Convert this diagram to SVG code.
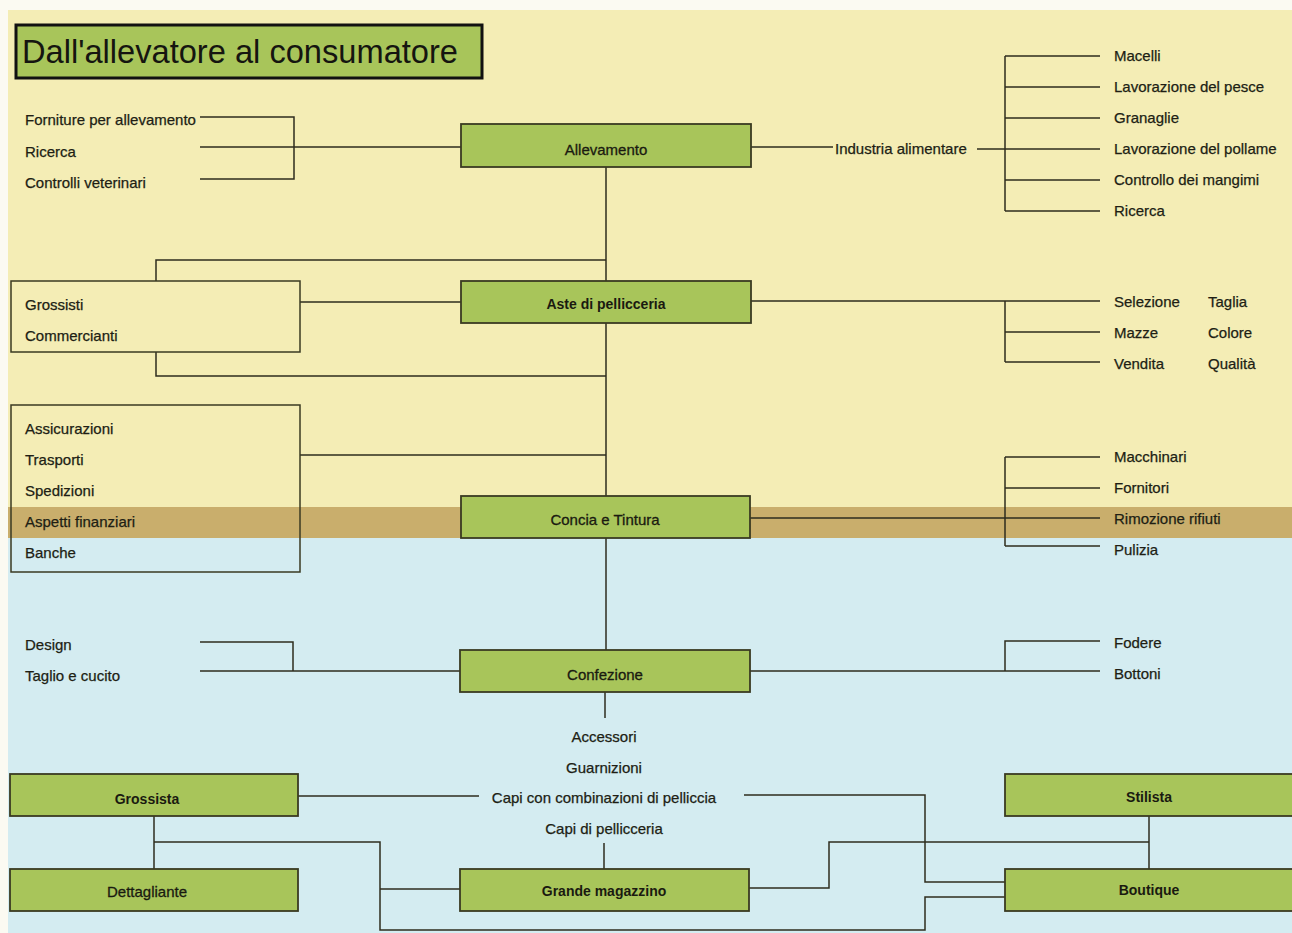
<svg xmlns="http://www.w3.org/2000/svg" width="1292" height="933" viewBox="0 0 1292 933">
<style>
.t{font-family:"Liberation Sans",Arial,sans-serif;font-size:15px;fill:#201e14;stroke:#201e14;stroke-width:0.25}
.lb{font-family:"Liberation Sans",Arial,sans-serif;font-size:15px;fill:#1a1a10;stroke:#1a1a10;stroke-width:0.3;text-anchor:middle}
.b{font-weight:bold;font-size:14px;stroke-width:0}
.box{fill:#a8c55a;stroke:#3a3a22;stroke-width:1.8}
.frame{fill:none;stroke:#3a3a22;stroke-width:1.5}
.ln{fill:none;stroke:#2e2c1e;stroke-width:1.5}
.c{text-anchor:middle}
</style>
<rect x="0" y="0" width="1292" height="933" fill="#fbfaf2"/>
<rect x="8" y="10" width="1284" height="497" fill="#f4edb5"/>
<rect x="8" y="507" width="1284" height="31" fill="#c9ae6c"/>
<rect x="8" y="538" width="1284" height="395" fill="#d4ecf1"/>

<g id="title">
<rect x="16" y="25" width="466" height="53" fill="#a8c55a" stroke="#111" stroke-width="3"/>
<text x="22" y="63" font-family="Liberation Sans, Arial, sans-serif" font-size="33" fill="#151510" textLength="436" lengthAdjust="spacingAndGlyphs">Dall'allevatore al consumatore</text>
</g>

<g id="connectors">
<path class="ln" d="M606 167 V650"/>
<path class="ln" d="M605 692 V718"/>
<path class="ln" d="M200 117 H294 V179 H200 M200 147 H461"/>
<path class="ln" d="M751 147 H833"/>
<path class="ln" d="M977 149 H1005"/>
<path class="ln" d="M1005 56 V211 M1005 56 H1100 M1005 87 H1100 M1005 118 H1100 M1005 149 H1100 M1005 180 H1100 M1005 211 H1100"/>
<path class="ln" d="M300 302 H461"/>
<path class="ln" d="M156 281 V260 H606 M156 352 V376 H606"/>
<path class="ln" d="M751 301 H1100 M1005 301 V362 M1005 332 H1100 M1005 362 H1100"/>
<path class="ln" d="M300 455 H606"/>
<path class="ln" d="M750 518 H1100 M1005 457 V546 M1005 457 H1100 M1005 488 H1100 M1005 546 H1100"/>
<path class="ln" d="M200 642 H293 V671 M200 671 H460"/>
<path class="ln" d="M750 671 H1100 M1005 671 V641 H1100"/>
<path class="ln" d="M298 796 H479"/>
<path class="ln" d="M744 795 H925 V882 H1005"/>
<path class="ln" d="M154 816 V869"/>
<path class="ln" d="M154 842 H380 V930 H925 V897 H1005"/>
<path class="ln" d="M380 889 H460" stroke-width="2"/>
<path class="ln" d="M749 888 H829 V842 H1149"/>
<path class="ln" d="M1149 816 V869"/>
<path class="ln" d="M604 843 V869" stroke-width="2.5"/>
</g>

<g id="allevamento-inputs">
<text class="t" x="25" y="125">Forniture per allevamento</text>
<text class="t" x="25" y="157">Ricerca</text>
<text class="t" x="25" y="188">Controlli veterinari</text>
</g>

<g id="allevamento">
<rect class="box" x="461" y="124" width="290" height="43"/>
<text class="lb" x="606" y="155">Allevamento</text>
</g>

<g id="industria">
<text class="t" x="835" y="154">Industria alimentare</text>
<text class="t" x="1114" y="61">Macelli</text>
<text class="t" x="1114" y="92">Lavorazione del pesce</text>
<text class="t" x="1114" y="123">Granaglie</text>
<text class="t" x="1114" y="154">Lavorazione del pollame</text>
<text class="t" x="1114" y="185">Controllo dei mangimi</text>
<text class="t" x="1114" y="216">Ricerca</text>
</g>

<g id="grossisti">
<rect class="frame" x="11" y="281" width="289" height="71"/>
<text class="t" x="25" y="310">Grossisti</text>
<text class="t" x="25" y="341">Commercianti</text>
</g>

<g id="aste">
<rect class="box" x="461" y="281" width="290" height="42"/>
<text class="lb b" x="606" y="309">Aste di pellicceria</text>
</g>

<g id="aste-outputs">
<text class="t" x="1114" y="307">Selezione</text>
<text class="t" x="1114" y="338">Mazze</text>
<text class="t" x="1114" y="369">Vendita</text>
<text class="t" x="1208" y="307">Taglia</text>
<text class="t" x="1208" y="338">Colore</text>
<text class="t" x="1208" y="369">Qualità</text>
</g>

<g id="servizi">
<rect class="frame" x="11" y="405" width="289" height="167"/>
<text class="t" x="25" y="434">Assicurazioni</text>
<text class="t" x="25" y="465">Trasporti</text>
<text class="t" x="25" y="496">Spedizioni</text>
<text class="t" x="25" y="527">Aspetti finanziari</text>
<text class="t" x="25" y="558">Banche</text>
</g>

<g id="concia">
<rect class="box" x="461" y="496" width="289" height="42"/>
<text class="lb" x="605" y="525">Concia e Tintura</text>
</g>

<g id="concia-outputs">
<text class="t" x="1114" y="462">Macchinari</text>
<text class="t" x="1114" y="493">Fornitori</text>
<text class="t" x="1114" y="524">Rimozione rifiuti</text>
<text class="t" x="1114" y="555">Pulizia</text>
</g>

<g id="confezione-inputs">
<text class="t" x="25" y="650">Design</text>
<text class="t" x="25" y="681">Taglio e cucito</text>
</g>

<g id="confezione">
<rect class="box" x="460" y="650" width="290" height="42"/>
<text class="lb" x="605" y="680">Confezione</text>
</g>

<g id="confezione-outputs">
<text class="t" x="1114" y="648">Fodere</text>
<text class="t" x="1114" y="679">Bottoni</text>
</g>

<g id="prodotti">
<text class="t c" x="604" y="742">Accessori</text>
<text class="t c" x="604" y="773">Guarnizioni</text>
<text class="t c" x="604" y="803">Capi con combinazioni di pelliccia</text>
<text class="t c" x="604" y="834">Capi di pellicceria</text>
</g>

<g id="grossista">
<rect class="box" x="10" y="774" width="288" height="42"/>
<text class="lb b" x="147" y="804">Grossista</text>
</g>

<g id="dettagliante">
<rect class="box" x="10" y="869" width="288" height="42"/>
<text class="lb" x="147" y="897">Dettagliante</text>
</g>

<g id="grande-magazzino">
<rect class="box" x="460" y="869" width="289" height="42"/>
<text class="lb b" x="604" y="896">Grande magazzino</text>
</g>

<g id="stilista">
<rect class="box" x="1005" y="774" width="290" height="42"/>
<text class="lb b" x="1149" y="802">Stilista</text>
</g>

<g id="boutique">
<rect class="box" x="1005" y="869" width="290" height="42"/>
<text class="lb b" x="1149" y="895">Boutique</text>
</g>
</svg>
